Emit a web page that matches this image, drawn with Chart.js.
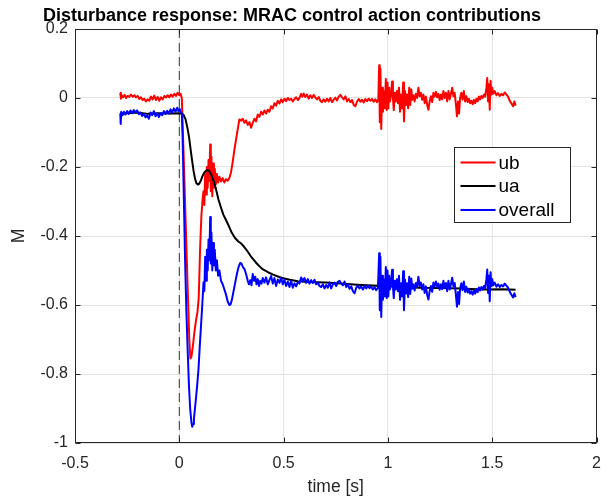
<!DOCTYPE html>
<html>
<head>
<meta charset="utf-8">
<script src="https://cdn.jsdelivr.net/npm/chart.js@4"></script>
<style>
  html, body { margin: 0; padding: 0; background: #fff; }
  canvas { display: block; }
</style>
</head>
<body>
<canvas id="chart" width="612" height="499"></canvas>
<script>
// Disturbance response - MRAC control action contributions

const chartTitle = 'Disturbance response: MRAC control action contributions';
const xTickValues = [-0.5, 0, 0.5, 1, 1.5, 2];
const xTickLabels = ['-0.5', '0', '0.5', '1', '1.5', '2'];
const yTickValues = [0.2, 0, -0.2, -0.4, -0.6, -0.8, -1];
const yTickLabels = ['0.2', '0', '-0.2', '-0.4', '-0.6', '-0.8', '-1'];
const seriesNames = ['ub', 'ua', 'overall'];
const seriesColors = ['#ff0000', '#000000', '#0000ff'];
const disturbanceTime = [0, 0];
const disturbanceLevel = [0.2, -1];

// ub (red)
const ubTime = [
  -0.283, -0.28, -0.276, -0.27, -0.262, -0.255, -0.248, -0.24, -0.232, -0.224, -0.216, -0.208, -0.2,
  -0.192, -0.184, -0.176, -0.168, -0.16, -0.152, -0.144, -0.136, -0.128, -0.12, -0.112, -0.104, -0.096,
  -0.088, -0.08, -0.072, -0.064, -0.056, -0.048, -0.04, -0.032, -0.024, -0.016, -0.008, 0, 0.006, 0.012,
  0.02, 0.03, 0.04, 0.048, 0.053, 0.058, 0.065, 0.072, 0.08, 0.087, 0.093, 0.1, 0.106, 0.112, 0.116,
  0.12, 0.124, 0.128, 0.132, 0.136, 0.14, 0.144, 0.148, 0.151, 0.154, 0.158, 0.162, 0.166, 0.17, 0.175,
  0.18, 0.186, 0.192, 0.2, 0.208, 0.216, 0.224, 0.232, 0.24, 0.248, 0.256, 0.264, 0.272, 0.28, 0.288,
  0.296, 0.304, 0.312, 0.32, 0.328, 0.336, 0.344, 0.352, 0.36, 0.368, 0.376, 0.384, 0.392, 0.4, 0.408,
  0.416, 0.424, 0.432, 0.44, 0.448, 0.456, 0.464, 0.472, 0.48, 0.488, 0.496, 0.504, 0.512, 0.52, 0.528,
  0.536, 0.544, 0.552, 0.56, 0.568, 0.576, 0.584, 0.59, 0.596, 0.604, 0.612, 0.62, 0.628, 0.636, 0.644,
  0.652, 0.66, 0.668, 0.676, 0.684, 0.692, 0.7, 0.708, 0.716, 0.724, 0.732, 0.74, 0.748, 0.756, 0.764,
  0.772, 0.78, 0.788, 0.796, 0.804, 0.812, 0.82, 0.828, 0.836, 0.844, 0.852, 0.86, 0.868, 0.876, 0.884,
  0.892, 0.9, 0.908, 0.916, 0.924, 0.932, 0.94, 0.948, 0.954, 0.958, 0.961, 0.964, 0.968, 0.972, 0.976,
  0.98, 0.985, 0.99, 0.994, 0.998, 1.002, 1.006, 1.01, 1.015, 1.02, 1.024, 1.028, 1.033, 1.038, 1.043,
  1.048, 1.053, 1.058, 1.063, 1.068, 1.073, 1.077, 1.082, 1.087, 1.092, 1.097, 1.102, 1.107, 1.112,
  1.117, 1.122, 1.128, 1.134, 1.14, 1.146, 1.152, 1.158, 1.164, 1.17, 1.176, 1.182, 1.188, 1.194, 1.2,
  1.206, 1.212, 1.218, 1.224, 1.23, 1.236, 1.242, 1.248, 1.254, 1.26, 1.266, 1.272, 1.278, 1.284, 1.29,
  1.296, 1.302, 1.308, 1.314, 1.32, 1.326, 1.331, 1.336, 1.341, 1.346, 1.352, 1.358, 1.364, 1.37, 1.376,
  1.382, 1.388, 1.394, 1.4, 1.406, 1.412, 1.418, 1.424, 1.43, 1.436, 1.442, 1.448, 1.454, 1.46, 1.466,
  1.472, 1.476, 1.48, 1.484, 1.488, 1.492, 1.496, 1.5, 1.505, 1.512, 1.52, 1.528, 1.536, 1.544, 1.552,
  1.56, 1.568, 1.576, 1.584, 1.592, 1.6, 1.606, 1.612
];
const ubValues = [
  0.015, -0.002, 0.008, 0.002, 0.009, 0, 0.006, 0.003, 0.01, 0.004, 0.008, 0.002, 0.006,
  -0.003, 0.002, -0.006, -0.002, -0.01, -0.004, -0.008, 0.004, -0.004, 0.007, -0.006, 0.003, -0.008,
  0.002, -0.004, 0.006, 0.001, 0.008, 0.002, 0.01, 0.004, 0.012, 0.006, 0.015, 0.008, 0.012, 0,
  -0.15, -0.35, -0.55, -0.7, -0.755, -0.75, -0.72, -0.68, -0.645, -0.62, -0.58, -0.43, -0.34, -0.29, -0.27,
  -0.31, -0.22, -0.28, -0.2, -0.26, -0.18, -0.24, -0.135, -0.27, -0.17, -0.285, -0.19, -0.26, -0.205, -0.25,
  -0.22, -0.245, -0.228, -0.242, -0.232, -0.245, -0.235, -0.24, -0.232, -0.215, -0.185, -0.15, -0.12, -0.09, -0.062,
  -0.066, -0.06, -0.072, -0.065, -0.078, -0.07, -0.086, -0.072, -0.06, -0.068, -0.048, -0.055, -0.04, -0.048, -0.036,
  -0.045, -0.034, -0.04, -0.024, -0.03, -0.015, -0.022, -0.008, -0.016, -0.004, -0.012, -0.002, -0.009, 0, -0.006,
  -0.002, -0.01, -0.003, 0.002, -0.006, 0, 0.012, 0.004, 0.013, 0.003, 0.01, -0.002, 0.008, 0, 0.009,
  0.002, -0.004, 0.003, -0.008, -0.012, -0.004, -0.011, -0.002, -0.01, 0, -0.012, -0.005, 0.001, -0.007, 0.004,
  0.009, 0.002, -0.004, 0.005, -0.01, -0.003, -0.012, -0.006, -0.02, -0.024, -0.01, -0.003, -0.011, -0.005, -0.013,
  -0.003, -0.009, -0.002, -0.008, -0.003, -0.011, -0.004, -0.012, -0.004, 0.095, -0.07, 0.085, -0.09, 0.03, -0.04,
  0.02, -0.03, 0.055, -0.035, 0.045, -0.03, 0.03, -0.01, 0.01, 0.048, 0, -0.035, 0.015, -0.01, 0.02,
  -0.015, 0.03, -0.04, 0.01, -0.03, 0.045, -0.068, 0.02, -0.02, 0.01, -0.03, 0.03, -0.02, 0.025,
  -0.005, 0.008, -0.01, 0.012, 0, 0.03, 0.005, 0.015, -0.005, 0.01, -0.015, 0.004, -0.02, -0.034, -0.01,
  0.005, -0.012, 0.015, 0.004, 0.018, 0.002, 0.012, -0.006, 0.01, -0.004, 0.02, 0, 0.015, -0.01, 0.02,
  -0.004, 0.012, 0.03, 0.005, 0.015, -0.02, -0.053, -0.01, -0.045, 0, 0.015, -0.005, 0.02, -0.01, 0.005,
  -0.012, -0.002, -0.015, -0.008, -0.018, -0.005, -0.015, -0.002, -0.01, 0.004, -0.004, 0.006, 0, 0.01, 0.004,
  0.03, 0.058, -0.01, 0.04, -0.034, 0.05, 0.01, 0.03, 0.012, 0.02, 0.008, 0.014, 0.006, 0.012, 0.008,
  0.016, 0.01, 0.004, -0.008, -0.016, -0.024, -0.01, -0.022
];

// ua (black)
const uaTime = [
  -0.283, -0.25, -0.2, -0.15, -0.1, -0.05, 0, 0.012, 0.02, 0.03, 0.04, 0.047, 0.054, 0.061, 0.068,
  0.075, 0.082, 0.089, 0.096, 0.103, 0.11, 0.118, 0.126, 0.134, 0.142, 0.15, 0.158, 0.166, 0.175,
  0.188, 0.2, 0.211, 0.223, 0.235, 0.251, 0.267, 0.283, 0.295, 0.306, 0.318, 0.33, 0.342, 0.354,
  0.366, 0.378, 0.39, 0.401, 0.425, 0.45, 0.488, 0.53, 0.568, 0.62, 0.7, 0.758, 0.853, 0.948, 1.05,
  1.15, 1.25, 1.35, 1.45, 1.55, 1.612
];
const uaValues = [
  -0.045, -0.044, -0.042, -0.046, -0.044, -0.045, -0.044, -0.045, -0.048, -0.062, -0.09, -0.115, -0.148, -0.18, -0.21,
  -0.233, -0.247, -0.251, -0.248, -0.24, -0.228, -0.218, -0.212, -0.209, -0.211, -0.218, -0.23, -0.243, -0.262,
  -0.295, -0.318, -0.338, -0.353, -0.368, -0.39, -0.406, -0.416, -0.421, -0.428, -0.437, -0.447, -0.458, -0.467,
  -0.476, -0.484, -0.491, -0.497, -0.505, -0.512, -0.521, -0.527, -0.531, -0.533, -0.535, -0.537, -0.541, -0.544, -0.547,
  -0.55, -0.551, -0.552, -0.555, -0.554, -0.556
];

// overall (blue)
const overallTime = [
  -0.283, -0.281, -0.278, -0.272, -0.265, -0.258, -0.25, -0.242, -0.234, -0.226, -0.218, -0.21, -0.202,
  -0.194, -0.186, -0.178, -0.17, -0.162, -0.154, -0.146, -0.138, -0.13, -0.122, -0.114, -0.106, -0.098,
  -0.09, -0.082, -0.074, -0.066, -0.058, -0.05, -0.042, -0.034, -0.026, -0.018, -0.01, -0.004, 0.002,
  0.008, 0.012, 0.016, 0.022, 0.028, 0.034, 0.04, 0.046, 0.052, 0.058, 0.062, 0.066, 0.07, 0.075, 0.08,
  0.086, 0.092, 0.098, 0.104, 0.11, 0.116, 0.12, 0.124, 0.128, 0.132, 0.136, 0.14, 0.144, 0.148, 0.151,
  0.154, 0.158, 0.162, 0.166, 0.17, 0.175, 0.18, 0.186, 0.192, 0.2, 0.208, 0.216, 0.224, 0.232, 0.24,
  0.246, 0.252, 0.26, 0.268, 0.276, 0.284, 0.292, 0.298, 0.305, 0.312, 0.32, 0.328, 0.334, 0.34, 0.346,
  0.352, 0.358, 0.364, 0.37, 0.376, 0.382, 0.388, 0.394, 0.4, 0.408, 0.416, 0.424, 0.432, 0.44, 0.448,
  0.456, 0.464, 0.472, 0.48, 0.488, 0.496, 0.504, 0.512, 0.52, 0.528, 0.536, 0.544, 0.552, 0.56, 0.568,
  0.576, 0.584, 0.592, 0.6, 0.608, 0.616, 0.624, 0.632, 0.64, 0.648, 0.656, 0.664, 0.672, 0.68, 0.688,
  0.696, 0.704, 0.712, 0.72, 0.728, 0.736, 0.744, 0.752, 0.76, 0.768, 0.776, 0.784, 0.792, 0.8, 0.808,
  0.816, 0.824, 0.832, 0.84, 0.848, 0.856, 0.864, 0.872, 0.88, 0.888, 0.896, 0.904, 0.912, 0.92, 0.928,
  0.936, 0.944, 0.952, 0.958, 0.961, 0.964, 0.968, 0.972, 0.976, 0.98, 0.985, 0.99, 0.994, 0.998, 1.002,
  1.006, 1.01, 1.015, 1.02, 1.024, 1.028, 1.033, 1.038, 1.043, 1.048, 1.053, 1.058, 1.063, 1.068, 1.073,
  1.077, 1.082, 1.087, 1.092, 1.097, 1.102, 1.107, 1.112, 1.117, 1.122, 1.128, 1.134, 1.14, 1.146, 1.152,
  1.158, 1.164, 1.17, 1.176, 1.182, 1.188, 1.194, 1.2, 1.206, 1.212, 1.218, 1.224, 1.23, 1.236, 1.242,
  1.248, 1.254, 1.26, 1.266, 1.272, 1.278, 1.284, 1.29, 1.296, 1.302, 1.308, 1.314, 1.32, 1.326, 1.331,
  1.336, 1.341, 1.346, 1.352, 1.358, 1.364, 1.37, 1.376, 1.382, 1.388, 1.394, 1.4, 1.406, 1.412, 1.418,
  1.424, 1.43, 1.436, 1.442, 1.448, 1.454, 1.46, 1.466, 1.472, 1.476, 1.48, 1.484, 1.488, 1.492, 1.496,
  1.5, 1.505, 1.512, 1.52, 1.528, 1.536, 1.544, 1.552, 1.56, 1.568, 1.576, 1.584, 1.592, 1.6, 1.606, 1.612
];
const overallValues = [
  -0.045, -0.075, -0.04, -0.05, -0.04, -0.048, -0.038, -0.046, -0.036, -0.044, -0.035, -0.042, -0.036,
  -0.047, -0.042, -0.052, -0.046, -0.056, -0.05, -0.06, -0.042, -0.05, -0.038, -0.053, -0.044, -0.055,
  -0.044, -0.05, -0.038, -0.046, -0.037, -0.045, -0.033, -0.042, -0.03, -0.04, -0.028, -0.038, -0.032,
  -0.042, -0.045, -0.12, -0.3, -0.48, -0.62, -0.73, -0.83, -0.9, -0.94, -0.953, -0.945, -0.93, -0.9, -0.87,
  -0.83, -0.785, -0.72, -0.66, -0.6, -0.535, -0.56, -0.46, -0.53, -0.44, -0.5, -0.41, -0.47, -0.345, -0.48,
  -0.39, -0.5, -0.42, -0.485, -0.44, -0.5, -0.47, -0.515, -0.5, -0.53, -0.54, -0.555, -0.57, -0.59, -0.6,
  -0.598, -0.585, -0.56, -0.535, -0.51, -0.49, -0.478, -0.48, -0.49, -0.495, -0.51, -0.53, -0.54, -0.528, -0.543,
  -0.51, -0.53, -0.518, -0.54, -0.525, -0.545, -0.53, -0.538, -0.522, -0.535, -0.52, -0.54, -0.528, -0.516, -0.538,
  -0.522, -0.545, -0.526, -0.536, -0.52, -0.54, -0.527, -0.545, -0.532, -0.548, -0.53, -0.55, -0.537, -0.546, -0.533,
  -0.538, -0.52, -0.53, -0.522, -0.536, -0.525, -0.538, -0.528, -0.536, -0.527, -0.54, -0.535, -0.545, -0.548, -0.54,
  -0.552, -0.542, -0.55, -0.535, -0.552, -0.54, -0.535, -0.545, -0.533, -0.53, -0.537, -0.543, -0.532, -0.548, -0.54,
  -0.553, -0.546, -0.56, -0.566, -0.55, -0.544, -0.552, -0.546, -0.555, -0.545, -0.552, -0.544, -0.551, -0.547, -0.555,
  -0.548, -0.557, -0.55, -0.45, -0.615, -0.46, -0.635, -0.515, -0.585, -0.525, -0.575, -0.49, -0.58, -0.5, -0.575,
  -0.515, -0.555, -0.535, -0.498, -0.546, -0.58, -0.53, -0.555, -0.525, -0.56, -0.515, -0.585, -0.537, -0.575, -0.502,
  -0.615, -0.527, -0.567, -0.537, -0.577, -0.518, -0.568, -0.523, -0.553, -0.54, -0.558, -0.536, -0.548, -0.518, -0.545,
  -0.535, -0.555, -0.54, -0.565, -0.546, -0.57, -0.584, -0.56, -0.545, -0.562, -0.535, -0.546, -0.532, -0.548, -0.538,
  -0.556, -0.54, -0.554, -0.53, -0.55, -0.536, -0.56, -0.53, -0.555, -0.54, -0.521, -0.546, -0.536, -0.572, -0.605,
  -0.562, -0.597, -0.552, -0.537, -0.557, -0.532, -0.562, -0.547, -0.564, -0.554, -0.567, -0.56, -0.57, -0.557, -0.567,
  -0.554, -0.563, -0.549, -0.558, -0.548, -0.555, -0.545, -0.551, -0.525, -0.497, -0.565, -0.515, -0.589, -0.505, -0.545,
  -0.525, -0.543, -0.535, -0.547, -0.54, -0.548, -0.542, -0.546, -0.538, -0.544, -0.55, -0.562, -0.57, -0.578, -0.566, -0.577
];

const toPoints = (ts, vs) => ts.map((t, i) => ({ x: t, y: vs[i] }));

// Legend box, inward ticks, full axes box and title (MATLAB look)
const matlabDecor = {
  id: 'matlabDecor',
  afterDraw(chart) {
    const { ctx, chartArea: a, scales: { x, y } } = chart;
    const L = Math.round(a.left) + 0.5, R = Math.round(a.right) - 0.5;
    const T = Math.round(a.top) + 0.5, B = Math.round(a.bottom) - 0.5;
    ctx.save();
    ctx.strokeStyle = '#262626';
    ctx.lineWidth = 1;
    ctx.strokeRect(L, T, R - L, B - T);
    ctx.beginPath();
    xTickValues.forEach(v => {
      const px = Math.round(x.getPixelForValue(v)) + 0.5;
      ctx.moveTo(px, B); ctx.lineTo(px, B - 5);
      ctx.moveTo(px, T); ctx.lineTo(px, T + 5);
    });
    yTickValues.forEach(v => {
      const py = Math.round(y.getPixelForValue(v)) + 0.5;
      ctx.moveTo(L, py); ctx.lineTo(L + 5, py);
      ctx.moveTo(R, py); ctx.lineTo(R - 5, py);
    });
    ctx.stroke();

    // legend
    const lx = 454.5, ly = 147.5, lw = 116, lh = 75;
    ctx.fillStyle = '#ffffff';
    ctx.fillRect(lx, ly, lw, lh);
    ctx.strokeStyle = '#262626';
    ctx.strokeRect(lx, ly, lw, lh);
    const rows = [162.5, 186, 210];
    ctx.font = '19px "Liberation Sans", Arial, sans-serif';
    ctx.textBaseline = 'middle';
    ctx.textAlign = 'left';
    seriesNames.forEach((name, i) => {
      ctx.strokeStyle = seriesColors[i];
      ctx.lineWidth = 2;
      ctx.beginPath();
      ctx.moveTo(lx + 6, rows[i]);
      ctx.lineTo(lx + 41, rows[i]);
      ctx.stroke();
      ctx.fillStyle = '#000000';
      ctx.fillText(name, lx + 44, rows[i] + 1);
    });

    // title
    ctx.font = 'bold 18px "Liberation Sans", Arial, sans-serif';
    ctx.textAlign = 'center';
    ctx.textBaseline = 'alphabetic';
    ctx.fillStyle = '#000000';
    ctx.fillText(chartTitle, 292, 21);
    ctx.restore();
  }
};

const lineStyle = { borderWidth: 2, pointRadius: 0, tension: 0, borderJoinStyle: 'round', fill: false };

new Chart(document.getElementById('chart'), {
  type: 'line',
  data: {
    datasets: [
      { label: 'disturbance', data: toPoints(disturbanceTime, disturbanceLevel), borderColor: '#333333',
        borderWidth: 1, borderDash: [9, 5], pointRadius: 0, order: 4 },
      { label: seriesNames[0], data: toPoints(ubTime, ubValues), borderColor: seriesColors[0], order: 3, ...lineStyle },
      { label: seriesNames[1], data: toPoints(uaTime, uaValues), borderColor: seriesColors[1], order: 2, ...lineStyle },
      { label: seriesNames[2], data: toPoints(overallTime, overallValues), borderColor: seriesColors[2], order: 1, ...lineStyle }
    ]
  },
  options: {
    responsive: false,
    animation: false,
    devicePixelRatio: 1,
    layout: { padding: { top: 29, right: 11, left: 0, bottom: 0 } },
    plugins: { legend: { display: false }, tooltip: { enabled: false }, title: { display: false } },
    scales: {
      x: {
        type: 'linear', min: -0.5, max: 2,
        afterBuildTicks: s => { s.ticks = xTickValues.map(v => ({ value: v })); },
        afterFit: s => { s.height = 56; },
        grid: { color: '#e3e3e3', drawTicks: false },
        border: { display: false },
        ticks: {
          padding: 11, color: '#262626',
          font: { family: '"Liberation Sans", Arial, sans-serif', size: 16 },
          callback: (v, i) => xTickLabels[i]
        },
        title: {
          display: true, text: 'time [s]', color: '#262626',
          font: { family: '"Liberation Sans", Arial, sans-serif', size: 17.5 },
          padding: { top: 0, bottom: 1 }
        }
      },
      y: {
        type: 'linear', min: -1, max: 0.2,
        afterBuildTicks: s => { s.ticks = yTickValues.slice().reverse().map(v => ({ value: v })); },
        afterFit: s => { s.width = 75; },
        grid: { color: '#e3e3e3', drawTicks: false },
        border: { display: false },
        ticks: {
          padding: 7, color: '#262626',
          font: { family: '"Liberation Sans", Arial, sans-serif', size: 16 },
          callback: (v, i) => yTickLabels[yTickLabels.length - 1 - i]
        },
        title: {
          display: true, text: 'M', color: '#262626',
          font: { family: '"Liberation Sans", Arial, sans-serif', size: 17.5 },
          padding: { top: 9, bottom: 0 }
        }
      }
    }
  },
  plugins: [matlabDecor]
});
</script>
</body>
</html>
